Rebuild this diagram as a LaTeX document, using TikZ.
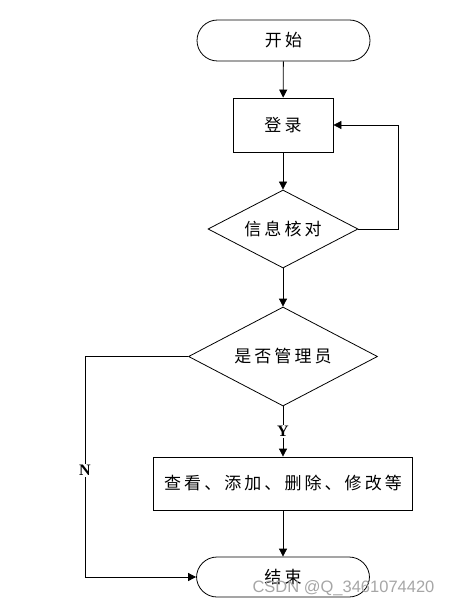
\documentclass[tikz,border=0pt]{standalone}
\usepackage{fontspec}
\setmainfont{Liberation Serif}
\newfontfamily\cjk[LetterSpace=18]{Noto Sans CJK SC}
\newfontfamily\wmfont{Liberation Sans}
\usetikzlibrary{arrows.meta,shapes.geometric}
\begin{document}
\begin{tikzpicture}[x=1pt,y=-1pt,
  line width=0.8pt,
  every node/.style={font=\cjk\fontsize{17}{19}\selectfont},
  term/.style={draw, rectangle, rounded corners=20.5pt, minimum width=173pt, minimum height=41pt, inner sep=0pt},
  proc/.style={draw, rectangle, inner sep=0pt},
  dec/.style={draw, diamond, inner sep=0pt},
  arr/.style={-{Triangle[length=8pt,width=8pt]}},
  lab/.style={font=\fontsize{16}{18}\selectfont\bfseries, fill=white, inner sep=1.5pt}
]
\useasboundingbox (0,0) rectangle (457,607);
\node[term] (start) at (283.5,40.5) {开始};
\node[proc, minimum width=100pt, minimum height=54pt] (login) at (283,125) {登录};
\node[dec, minimum width=150pt, minimum height=78pt, label={center:信息核对}] (check) at (283,229) {};
\node[dec, minimum width=189pt, minimum height=99pt, label={center:是否管理员}] (admin) at (283,356.5) {};
\node[proc, minimum width=259pt, minimum height=53pt] (ops) at (283,483.5) {查看、添加、删除、修改等};
\node[term, minimum width=173pt, minimum height=40pt] (end) at (283,577) {结束};
\coordinate (fbR) at (398,229);
\coordinate (fbT) at (398,125);
\coordinate (nL) at (85,356.5);
\coordinate (nB) at (85,577);

\draw[arr] (start) -- (login);
\draw[arr] (login) -- (check);
\draw[arr] (check.east) -- (fbR) -- (fbT) -- (login.east);
\draw[arr] (check) -- (admin);
\draw[arr] (admin) -- node[lab, pos=0.5] {Y} (ops);
\draw[arr] (ops) -- (end);
\draw[arr] (admin.west) -- (nL) -- (nB) -- (end.west);
\node[lab] (N) at (85,470.5) {N};
\node[font=\wmfont\fontsize{16.5}{18}\selectfont, text=black!35, anchor=center] (wm) at (343.5,588) {CSDN @Q\_3461074420};
\end{tikzpicture}
\end{document}
